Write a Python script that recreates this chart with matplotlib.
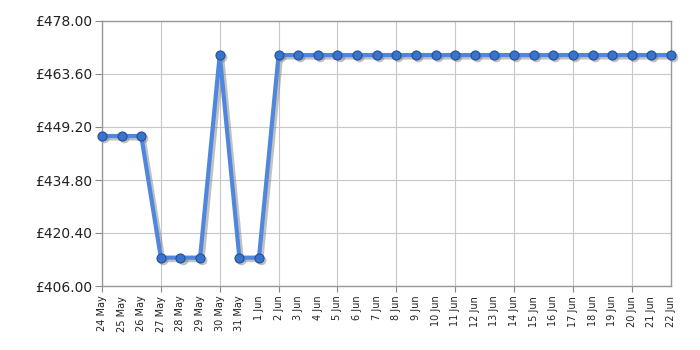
import matplotlib
matplotlib.use("Agg")
import matplotlib.pyplot as plt
import matplotlib.transforms as mtransforms
from matplotlib.ticker import FixedLocator, FixedFormatter

dates = ["24 May", "25 May", "26 May", "27 May", "28 May", "29 May", "30 May", "31 May",
         "1 Jun", "2 Jun", "3 Jun", "4 Jun", "5 Jun", "6 Jun", "7 Jun", "8 Jun", "9 Jun",
         "10 Jun", "11 Jun", "12 Jun", "13 Jun", "14 Jun", "15 Jun", "16 Jun", "17 Jun",
         "18 Jun", "19 Jun", "20 Jun", "21 Jun", "22 Jun"]
prices = [446.75, 446.75, 446.75, 413.70, 413.70, 413.70, 468.75, 413.70, 413.70,
          468.75, 468.75, 468.75, 468.75, 468.75, 468.75, 468.75, 468.75, 468.75,
          468.75, 468.75, 468.75, 468.75, 468.75, 468.75, 468.75, 468.75, 468.75,
          468.75, 468.75, 468.75]
yticks = [406.00, 420.40, 434.80, 449.20, 463.60, 478.00]

fig = plt.figure(figsize=(7, 3.5), dpi=100)
ax = fig.add_axes([102/700, 64/350, 569/700, 265/350])

x = list(range(len(dates)))
shadow_tr = mtransforms.offset_copy(ax.transData, fig=fig, x=1.5, y=-1.5, units="points")
ax.plot(x, prices, color="#777777", lw=3.5, alpha=0.45, marker="o", markersize=7,
        markeredgewidth=0, transform=shadow_tr, zorder=2, clip_on=False)
ax.plot(x, prices, color="#4f86de", lw=3, marker="o", markersize=6.5,
        markerfacecolor="#3a73cc", markeredgecolor="#1f4f9a", markeredgewidth=0.8,
        zorder=3, clip_on=False)

ax.set_xlim(0, len(dates) - 1)
ax.set_ylim(yticks[0], yticks[-1])
ax.set_yticks(yticks)
ax.set_yticklabels([f"£{v:.2f}" for v in yticks], fontsize=10, color="#222222")

major = [i for i in x if i % 3 == 0]
minor = [i for i in x if i % 3 != 0]
ax.xaxis.set_major_locator(FixedLocator(major))
ax.xaxis.set_major_formatter(FixedFormatter([dates[i] for i in major]))
ax.xaxis.set_minor_locator(FixedLocator(minor))
ax.xaxis.set_minor_formatter(FixedFormatter([dates[i] for i in minor]))
for lab in ax.get_xticklabels(which="both"):
    lab.set_rotation(90)
    lab.set_fontsize(7)
    lab.set_color("#222222")
ax.tick_params(axis="x", which="major", length=4, color="#888888", pad=3)
ax.tick_params(axis="x", which="minor", length=0, pad=7)
ax.tick_params(axis="y", length=5, color="#888888", pad=2)

ax.grid(True, which="major", color="#c8c8c8", lw=0.8)
ax.set_axisbelow(True)
for s in ax.spines.values():
    s.set_color("#999999")
    s.set_linewidth(1)

fig.savefig("out.png", dpi=100, facecolor="white")
